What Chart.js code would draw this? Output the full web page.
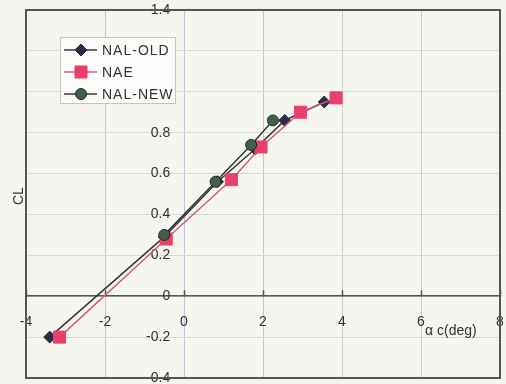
<!DOCTYPE html>
<html>
<head>
<meta charset="utf-8">
<script src="https://cdn.jsdelivr.net/npm/chart.js@4.4.1/dist/chart.umd.min.js"></script>
<style>
  html, body { margin: 0; padding: 0; background: #f6f6f1; }
  #wrap { width: 506px; height: 384px; }
</style>
</head>
<body>
<div id="wrap"><canvas id="clChart"></canvas></div>
<script>
// values
const seriesNames = ['NAL-OLD', 'NAE', 'NAL-NEW']
const nalOldAlpha = [-3.4, -0.5, 0.85, 1.8, 2.55, 3.55]
const nalOldCl = [-0.2, 0.29, 0.56, 0.72, 0.86, 0.95]
const naeAlpha = [-3.15, -0.45, 1.2, 1.95, 2.95, 3.85]
const naeCl = [-0.2, 0.28, 0.57, 0.73, 0.9, 0.97]
const nalNewAlpha = [-0.5, 0.8, 1.7, 2.25]
const nalNewCl = [0.3, 0.56, 0.74, 0.86]
const xTicks = [-4, -2, 0, 2, 4, 6, 8]
const yTicks = [-0.4, -0.2, 0, 0.2, 0.4, 0.6, 0.8, 1.0, 1.2, 1.4]
const xTitle = 'α c(deg)'
const yTitle = 'CL'

const toPoints = (xs, ys) => xs.map((x, i) => ({ x, y: ys[i] }))
const FONT = "'Liberation Sans', Arial, sans-serif"

// plot border + the short marks sitting on top of the x axis
const frame = {
  id: 'frame',
  beforeDatasetsDraw(chart) {
    const { ctx, chartArea: a } = chart
    const xs = chart.scales.x
    const y0 = chart.scales.y.getPixelForValue(0)
    ctx.save()
    ctx.strokeStyle = '#555'
    ctx.lineWidth = 1.5
    ctx.beginPath()
    xs.ticks.forEach((t) => {
      const px = Math.round(xs.getPixelForValue(t.value)) + 0.5
      ctx.moveTo(px, y0)
      ctx.lineTo(px, y0 - 6)
    })
    ctx.stroke()
    ctx.lineWidth = 2
    ctx.strokeRect(a.left, a.top, a.right - a.left, a.bottom - a.top)
    ctx.restore()
  },
}

const titles = {
  id: 'titles',
  afterDraw(chart) {
    const { ctx, chartArea: a } = chart
    const xs = chart.scales.x
    const ys = chart.scales.y
    ctx.save()
    ctx.fillStyle = '#333'
    ctx.font = '14px ' + FONT
    ctx.textBaseline = 'middle'
    ctx.textAlign = 'left'
    ctx.fillText(xTitle, xs.getPixelForValue(6) + 4, ys.getPixelForValue(-0.17))
    ctx.translate(a.left - 7, ys.getPixelForValue(0.49))
    ctx.rotate(-Math.PI / 2)
    ctx.textAlign = 'center'
    ctx.fillText(yTitle, 0, 0)
    ctx.restore()
  },
}

const boxLegend = {
  id: 'boxLegend',
  afterDraw(chart) {
    const { ctx } = chart
    const left = 60, top = 37, w = 115, h = 66
    ctx.save()
    ctx.fillStyle = '#fbfbfa'
    ctx.strokeStyle = '#c4c4c4'
    ctx.lineWidth = 1
    ctx.fillRect(left, top, w, h)
    ctx.strokeRect(left + 0.5, top + 0.5, w, h)
    ctx.font = '14px ' + FONT
    ctx.letterSpacing = '1px'
    ctx.textBaseline = 'middle'
    chart.data.datasets.forEach((ds, i) => {
      const y = top + 13 + i * 22
      ctx.strokeStyle = ds.borderColor
      ctx.lineWidth = ds.borderWidth
      ctx.beginPath()
      ctx.moveTo(left + 4, y)
      ctx.lineTo(left + 37, y)
      ctx.stroke()
      ctx.fillStyle = ds.pointBackgroundColor
      ctx.strokeStyle = ds.pointBorderColor
      ctx.lineWidth = ds.pointBorderWidth
      Chart.helpers.drawPoint(ctx, {
        pointStyle: ds.pointStyle,
        radius: ds.pointRadius,
        rotation: 0,
        borderWidth: ds.pointBorderWidth,
      }, left + 21, y)
      ctx.fillStyle = '#333'
      ctx.fillText(ds.label, left + 42, y + 1)
    })
    ctx.restore()
  },
}

new Chart(document.getElementById('clChart'), {
  type: 'scatter',
  data: {
    datasets: [
      {
        label: seriesNames[0],
        data: toPoints(nalOldAlpha, nalOldCl),
        showLine: true,
        borderColor: '#34343c',
        borderWidth: 1.5,
        pointStyle: 'rectRot',
        pointRadius: 6,
        pointBackgroundColor: '#2c2c46',
        pointBorderColor: '#2c2c46',
        pointBorderWidth: 1,
        order: 2,
      },
      {
        label: seriesNames[1],
        data: toPoints(naeAlpha, naeCl),
        showLine: true,
        borderColor: '#cf5c80',
        borderWidth: 1.5,
        pointStyle: 'rect',
        pointRadius: 8.5,
        pointBackgroundColor: '#e8406a',
        pointBorderColor: '#e8406a',
        pointBorderWidth: 1,
        order: 1,
      },
      {
        label: seriesNames[2],
        data: toPoints(nalNewAlpha, nalNewCl),
        showLine: true,
        borderColor: '#34343c',
        borderWidth: 1.5,
        pointStyle: 'circle',
        pointRadius: 5.5,
        pointBackgroundColor: '#3f6048',
        pointBorderColor: '#262626',
        pointBorderWidth: 1,
        order: 0,
      },
    ],
  },
  options: {
    responsive: true,
    maintainAspectRatio: false,
    animation: false,
    layout: { autoPadding: false, padding: { left: 26, top: 10, right: 6, bottom: 6 } },
    plugins: {
      legend: { display: false },
      tooltip: { enabled: false },
    },
    events: [],
    scales: {
      x: {
        type: 'linear',
        position: { y: 0 },
        min: -4,
        max: 8,
        afterBuildTicks: (scale) => { scale.ticks = xTicks.map((v) => ({ value: v })) },
        grid: {
          color: (c) => (c.tick && c.tick.value <= 2 ? '#cbc0d8' : '#cdcdc8'),
          tickColor: 'rgba(0,0,0,0)',
          tickLength: 18,
        },
        border: { color: '#555', width: 1.5 },
        ticks: {
          padding: 0,
          color: '#333',
          font: { family: FONT, size: 14 },
          callback: (v) => String(v),
        },
      },
      y: {
        type: 'linear',
        // labels sit a little left of the alpha = 0 line
        position: { x: -0.35 },
        min: -0.4,
        max: 1.4,
        afterBuildTicks: (scale) => { scale.ticks = yTicks.map((v) => ({ value: v })) },
        grid: { color: '#d9d9d4', drawTicks: false },
        border: { display: false },
        ticks: {
          padding: 0,
          color: '#333',
          font: { family: FONT, size: 14, lineHeight: 0.8 },
          callback: (v) => (v === 0 ? '0' : v.toFixed(1)),
        },
      },
    },
  },
  plugins: [frame, titles, boxLegend],
})
</script>
</body>
</html>
